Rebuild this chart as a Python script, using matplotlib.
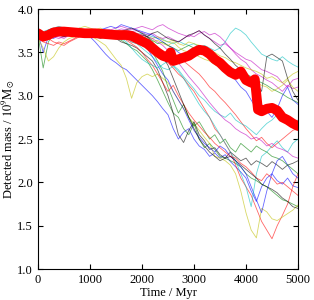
"""
Detected mass of the individual runs and their mean against time.
"""
import numpy as np
import matplotlib
matplotlib.use('Agg')
import matplotlib.pyplot as plt

# Time grid of the individual runs (Myr)
time = np.arange(0, 5001, 100)

# Detected mass of each run (10^9 Msun), one value per 100 Myr
run_b1 = [3.72, 3.50, 3.68, 3.66, 3.70, 3.71, 3.69, 3.72, 3.70, 3.71,
          3.68, 3.62, 3.55, 3.48, 3.42, 3.38, 3.33, 3.30, 3.24, 3.18,
          3.12, 3.06, 3.00, 2.93, 2.85, 2.78, 2.62, 2.50, 2.58, 2.62,
          2.50, 2.42, 2.38, 2.30, 2.34, 2.28, 2.32, 2.24, 2.18, 2.12,
          2.05, 1.90, 1.78, 1.95, 2.05, 2.10, 2.02, 1.98, 2.05, 1.96, 1.94]
run_g1 = [3.70, 3.32, 3.62, 3.72, 3.75, 3.74, 3.76, 3.73, 3.75, 3.72,
          3.74, 3.72, 3.70, 3.71, 3.68, 3.66, 3.64, 3.60, 3.55, 3.52,
          3.46, 3.40, 3.30, 3.18, 3.05, 2.92, 2.80, 2.75, 2.62, 2.55,
          2.68, 2.50, 2.40, 2.45, 2.38, 2.30, 2.28, 2.25, 2.22, 2.18,
          2.10, 2.05, 2.02, 1.98, 1.95, 1.90, 1.85, 1.80, 1.78, 1.75, 1.72]
run_r1 = [3.68, 3.62, 3.60, 3.58, 3.62, 3.60, 3.63, 3.66, 3.70, 3.72,
          3.74, 3.73, 3.72, 3.70, 3.72, 3.68, 3.65, 3.66, 3.62, 3.60,
          3.58, 3.55, 3.52, 3.48, 3.42, 3.38, 3.32, 3.25, 3.20, 3.12,
          3.05, 2.95, 2.85, 2.75, 2.62, 2.55, 2.45, 2.35, 2.20, 2.05,
          1.95, 1.85, 1.70, 1.55, 1.45, 1.35, 1.50, 1.62, 1.75, 1.95, 2.10]
run_c1 = [3.74, 3.70, 3.76, 3.78, 3.80, 3.78, 3.77, 3.75, 3.78, 3.76,
          3.74, 3.75, 3.73, 3.72, 3.74, 3.73, 3.70, 3.72, 3.68, 3.70,
          3.72, 3.70, 3.68, 3.66, 3.65, 3.62, 3.60, 3.63, 3.60, 3.58,
          3.60, 3.56, 3.58, 3.55, 3.52, 3.55, 3.62, 3.72, 3.78, 3.75,
          3.70, 3.62, 3.55, 3.48, 3.45, 3.42, 3.40, 3.45, 3.40, 3.36, 3.33]
run_m1 = [3.70, 3.68, 3.72, 3.70, 3.68, 3.66, 3.70, 3.72, 3.74, 3.73,
          3.72, 3.74, 3.76, 3.74, 3.72, 3.75, 3.77, 3.76, 3.74, 3.75,
          3.73, 3.70, 3.72, 3.68, 3.66, 3.68, 3.65, 3.62, 3.66, 3.70,
          3.68, 3.72, 3.74, 3.70, 3.72, 3.68, 3.62, 3.55, 3.50, 3.46,
          3.42, 3.40, 3.35, 3.30, 3.28, 3.25, 3.22, 3.15, 3.10, 3.18, 3.20]
run_y1 = [3.66, 3.55, 3.40, 3.45, 3.55, 3.62, 3.66, 3.68, 3.70, 3.68,
          3.70, 3.66, 3.62, 3.58, 3.50, 3.42, 3.35, 3.20, 2.97, 3.15,
          3.22, 3.25, 3.22, 3.25, 3.20, 3.15, 3.05, 2.95, 2.85, 2.75,
          2.68, 2.60, 2.52, 2.45, 2.30, 2.28, 2.25, 2.20, 2.10, 1.90,
          1.65, 1.45, 1.36, 1.70, 1.66, 1.58, 1.56, 1.60, 1.64, 1.68, 1.74]
run_k1 = [3.72, 3.70, 3.72, 3.74, 3.71, 3.73, 3.70, 3.72, 3.74, 3.73,
          3.70, 3.72, 3.70, 3.68, 3.70, 3.66, 3.62, 3.60, 3.58, 3.55,
          3.50, 3.45, 3.40, 3.30, 3.15, 3.00, 2.80, 2.55, 2.46, 2.60,
          2.70, 2.55, 2.48, 2.38, 2.40, 2.32, 2.28, 2.35, 2.30, 2.25,
          2.28, 2.20, 2.25, 2.22, 2.18, 2.24, 2.20, 2.15, 2.20, 2.22, 2.25]
run_b2 = [3.70, 3.72, 3.74, 3.72, 3.70, 3.73, 3.75, 3.72, 3.70, 3.72,
          3.73, 3.75, 3.74, 3.72, 3.73, 3.70, 3.72, 3.74, 3.70, 3.66,
          3.62, 3.55, 3.45, 3.35, 3.25, 3.18, 3.05, 2.95, 2.85, 2.72,
          2.60, 2.52, 2.45, 2.40, 2.35, 2.42, 2.38, 2.30, 2.25, 2.18,
          2.10, 1.95, 1.80, 1.65, 1.90, 2.10, 2.25, 2.30, 2.20, 2.10, 2.05]
run_g2 = [3.68, 3.70, 3.72, 3.74, 3.72, 3.70, 3.72, 3.75, 3.73, 3.74,
          3.72, 3.70, 3.73, 3.75, 3.72, 3.70, 3.72, 3.68, 3.70, 3.66,
          3.62, 3.58, 3.50, 3.40, 3.28, 3.10, 2.95, 2.80, 2.90, 2.75,
          2.65, 2.70, 2.60, 2.50, 2.55, 2.45, 2.50, 2.40, 2.35, 2.45,
          2.40, 2.35, 2.42, 2.38, 2.35, 2.30, 2.28, 2.25, 2.20, 2.15, 2.10]
run_r2 = [3.70, 3.68, 3.66, 3.62, 3.60, 3.58, 3.62, 3.65, 3.68, 3.70,
          3.72, 3.74, 3.72, 3.75, 3.73, 3.72, 3.74, 3.70, 3.72, 3.68,
          3.66, 3.62, 3.58, 3.55, 3.50, 3.45, 3.42, 3.38, 3.40, 3.35,
          3.30, 3.25, 3.18, 3.10, 3.05, 2.98, 2.92, 2.85, 2.78, 2.70,
          2.62, 2.55, 2.48, 2.52, 2.45, 2.40, 2.45, 2.50, 2.55, 2.60, 2.62]
run_c2 = [3.72, 3.74, 3.70, 3.72, 3.75, 3.73, 3.71, 3.74, 3.76, 3.74,
          3.72, 3.70, 3.72, 3.74, 3.70, 3.68, 3.70, 3.66, 3.62, 3.60,
          3.55, 3.50, 3.45, 3.38, 3.32, 3.30, 3.34, 3.28, 3.20, 3.10,
          3.00, 2.90, 2.82, 2.75, 2.65, 2.55, 2.45, 2.35, 2.25, 2.10,
          1.95, 1.72, 2.10, 2.30, 2.35, 2.42, 2.48, 2.40, 2.35, 2.45, 2.50]
run_m2 = [3.65, 3.68, 3.70, 3.72, 3.70, 3.68, 3.70, 3.73, 3.72, 3.74,
          3.76, 3.74, 3.75, 3.77, 3.76, 3.78, 3.80, 3.78, 3.76, 3.78,
          3.80, 3.78, 3.76, 3.80, 3.82, 3.78, 3.75, 3.72, 3.70, 3.68,
          3.72, 3.75, 3.70, 3.66, 3.62, 3.58, 3.60, 3.55, 3.48, 3.42,
          3.38, 3.30, 3.25, 3.22, 3.18, 3.15, 3.10, 3.05, 3.12, 3.08, 3.10]
run_y2 = [3.70, 3.72, 3.74, 3.76, 3.78, 3.76, 3.74, 3.76, 3.78, 3.80,
          3.78, 3.76, 3.78, 3.75, 3.74, 3.76, 3.74, 3.72, 3.70, 3.72,
          3.70, 3.68, 3.66, 3.68, 3.64, 3.62, 3.64, 3.60, 3.58, 3.62,
          3.60, 3.58, 3.55, 3.52, 3.50, 3.46, 3.44, 3.40, 3.38, 3.35,
          3.32, 3.30, 3.28, 3.25, 3.20, 3.22, 3.18, 3.15, 3.20, 3.25, 3.28]
run_k2 = [3.72, 3.70, 3.73, 3.75, 3.72, 3.74, 3.76, 3.74, 3.72, 3.75,
          3.74, 3.72, 3.75, 3.73, 3.70, 3.72, 3.74, 3.70, 3.72, 3.68,
          3.70, 3.68, 3.72, 3.74, 3.70, 3.66, 3.64, 3.62, 3.66, 3.70,
          3.72, 3.75, 3.70, 3.66, 3.60, 3.55, 3.48, 3.42, 3.35, 3.30,
          3.25, 3.20, 3.15, 3.05, 3.45, 3.48, 3.44, 3.40, 3.20, 3.05, 2.95]
run_b3 = [3.72, 3.70, 3.68, 3.70, 3.72, 3.74, 3.72, 3.75, 3.74, 3.76,
          3.75, 3.74, 3.76, 3.78, 3.80, 3.78, 3.82, 3.80, 3.78, 3.76,
          3.74, 3.72, 3.70, 3.66, 3.62, 3.58, 3.55, 3.50, 3.46, 3.48,
          3.52, 3.56, 3.50, 3.45, 3.40, 3.35, 3.30, 3.25, 3.18, 3.10,
          3.05, 2.95, 2.85, 2.90, 2.82, 2.75, 2.85, 3.00, 3.10, 2.95, 2.90]
run_g3 = [3.66, 3.70, 3.72, 3.70, 3.74, 3.72, 3.70, 3.72, 3.74, 3.72,
          3.70, 3.72, 3.74, 3.72, 3.70, 3.68, 3.72, 3.74, 3.70, 3.68,
          3.66, 3.68, 3.64, 3.60, 3.62, 3.58, 3.55, 3.52, 3.55, 3.58,
          3.55, 3.50, 3.48, 3.45, 3.42, 3.40, 3.36, 3.32, 3.30, 3.28,
          3.25, 3.22, 3.18, 3.15, 3.12, 3.08, 3.05, 3.02, 2.98, 2.95, 2.92]
run_r3 = [3.70, 3.72, 3.70, 3.68, 3.70, 3.72, 3.74, 3.72, 3.70, 3.72,
          3.74, 3.72, 3.70, 3.72, 3.68, 3.66, 3.68, 3.64, 3.60, 3.56,
          3.50, 3.42, 3.35, 3.25, 3.15, 3.05, 3.12, 3.00, 2.90, 2.80,
          2.72, 2.65, 2.58, 2.52, 2.45, 2.40, 2.35, 2.30, 2.28, 2.22,
          2.18, 2.12, 2.05, 2.02, 2.10, 2.05, 1.98, 2.00, 1.95, 1.90, 1.85]
run_c3 = [3.72, 3.74, 3.76, 3.78, 3.76, 3.74, 3.72, 3.74, 3.76, 3.74,
          3.72, 3.70, 3.72, 3.74, 3.72, 3.70, 3.66, 3.62, 3.55, 3.48,
          3.42, 3.38, 3.35, 3.32, 3.36, 3.40, 3.35, 3.30, 3.22, 3.15,
          3.08, 3.00, 2.95, 2.88, 2.82, 2.78, 2.75, 2.80, 2.72, 2.68,
          2.65, 2.60, 2.55, 2.62, 2.68, 2.72, 2.78, 2.75, 2.70, 2.68, 2.72]
run_m3 = [3.70, 3.72, 3.70, 3.68, 3.66, 3.68, 3.70, 3.72, 3.70, 3.68,
          3.70, 3.72, 3.70, 3.68, 3.70, 3.72, 3.70, 3.72, 3.74, 3.72,
          3.70, 3.68, 3.66, 3.62, 3.58, 3.52, 3.45, 3.38, 3.30, 3.22,
          3.15, 3.08, 3.00, 2.92, 2.85, 2.78, 2.72, 2.68, 2.62, 2.58,
          2.55, 2.50, 2.52, 2.48, 2.42, 2.45, 2.40, 2.38, 2.35, 2.30, 2.28]
run_y3 = [3.68, 3.70, 3.72, 3.70, 3.72, 3.74, 3.72, 3.70, 3.72, 3.74,
          3.72, 3.70, 3.68, 3.70, 3.72, 3.70, 3.68, 3.70, 3.72, 3.70,
          3.68, 3.66, 3.62, 3.64, 3.60, 3.58, 3.62, 3.56, 3.52, 3.50,
          3.48, 3.45, 3.42, 3.40, 3.36, 3.32, 3.30, 3.28, 3.25, 3.22,
          3.20, 3.18, 3.15, 3.12, 3.10, 3.05, 3.08, 3.12, 3.18, 3.10, 3.05]
run_k3 = [3.70, 3.68, 3.70, 3.72, 3.70, 3.68, 3.70, 3.72, 3.70, 3.72,
          3.70, 3.68, 3.66, 3.68, 3.70, 3.72, 3.74, 3.76, 3.78, 3.75,
          3.72, 3.68, 3.62, 3.55, 3.45, 3.35, 3.20, 3.05, 2.90, 2.75,
          2.62, 2.50, 2.42, 2.35, 2.30, 2.25, 2.28, 2.30, 2.25, 2.20,
          2.15, 2.10, 2.05, 1.98, 1.95, 1.92, 1.88, 1.82, 1.78, 1.72, 1.70]

runs = [run_b1, run_g1, run_r1, run_c1, run_m1, run_y1, run_k1,
        run_b2, run_g2, run_r2, run_c2, run_m2, run_y2, run_k2,
        run_b3, run_g3, run_r3, run_c3, run_m3, run_y3, run_k3]

# Mean over the runs
mean_time = [0, 100, 200, 300, 400, 500, 700, 900, 1100, 1300, 1500, 1700,
             1800, 1900, 2000, 2100, 2200, 2300, 2400, 2500, 2550, 2600,
             2700, 2800, 2900, 3000, 3100, 3200, 3300, 3400, 3500, 3600,
             3700, 3800, 3900, 4000, 4100, 4170, 4230, 4300, 4400, 4500,
             4600, 4700, 4800, 4900, 5000]
mean_mass = [3.72, 3.68, 3.70, 3.73, 3.74, 3.74, 3.73, 3.72, 3.72, 3.71,
             3.70, 3.70, 3.69, 3.66, 3.63, 3.60, 3.55, 3.50, 3.46, 3.44,
             3.50, 3.40, 3.42, 3.44, 3.46, 3.50, 3.53, 3.52, 3.48, 3.42,
             3.38, 3.32, 3.27, 3.24, 3.28, 3.18, 3.15, 3.19, 2.84, 2.82,
             2.85, 2.86, 2.83, 2.75, 2.72, 2.68, 2.65]

# Plot
plt.rcParams.update({
    'font.family': 'serif',
    'font.serif': ['Liberation Serif', 'DejaVu Serif'],
    'mathtext.fontset': 'stix',
    'font.size': 9,
    'xtick.direction': 'in',
    'ytick.direction': 'in',
    'xtick.top': True,
    'ytick.right': True})

colors = ['b', 'g', 'r', 'c', 'm', 'y', 'k']

fig = plt.figure(figsize=(3.14, 3.0), dpi=100)
ax = fig.add_axes([0.121, 0.103, 0.828, 0.867])

for i, run in enumerate(runs):
    ax.plot(time, run, c=colors[i % 7], lw=0.6, alpha=0.6)

ax.plot(mean_time, mean_mass, c='red', lw=7, solid_capstyle='round',
        solid_joinstyle='round')

ax.set_xlim(0, 5000)
ax.set_ylim(1.0, 4.0)
ax.set_xticks(np.arange(0, 5001, 1000))
ax.set_yticks(np.arange(1.0, 4.01, 0.5))
ax.set_xlabel('Time / Myr', labelpad=1)
ax.set_ylabel(r'Detected mass / $10^9\mathrm{M}_{\odot}$', labelpad=0)

fig.savefig('out.png', dpi=100)
